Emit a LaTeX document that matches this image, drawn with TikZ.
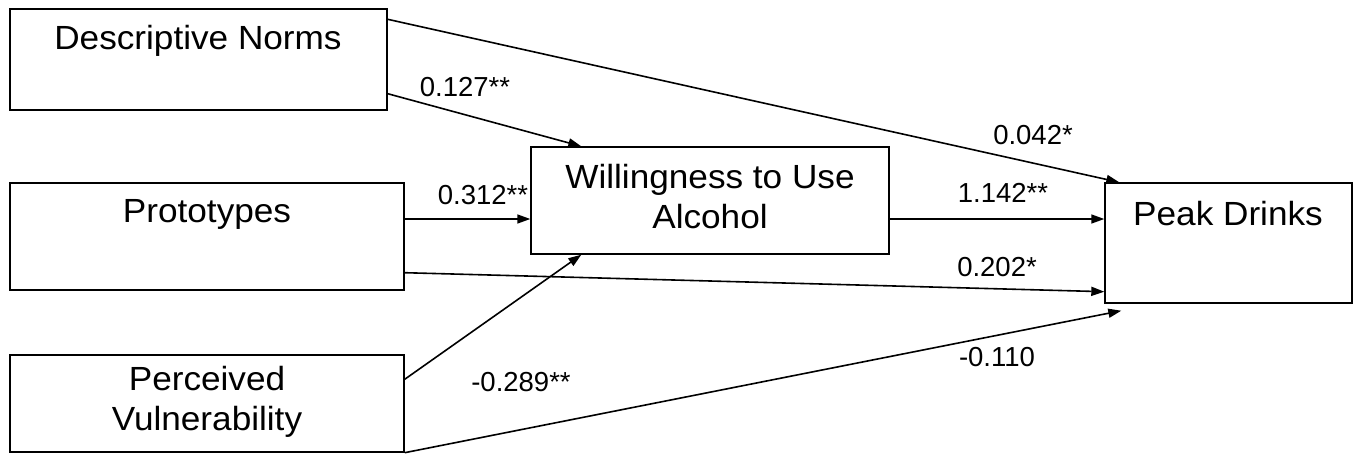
\documentclass[tikz,border=0pt]{standalone}
\usepackage{fontspec}
\setmainfont{Liberation Sans}
\newfontfamily\boxfont[FakeStretch=1.05]{Liberation Sans}
\newfontfamily\labfont{Liberation Sans}
\usetikzlibrary{arrows.meta}
\begin{document}
\begin{tikzpicture}[x=1pt,y=-1pt,
  box/.style={draw,line width=1.4pt,inner sep=0pt},
  btext/.style={inner sep=0pt,align=center,font=\boxfont\fontsize{33.5}{40}\selectfont},
  lab/.style={inner sep=0pt,font=\labfont\fontsize{27.5}{30}\selectfont},
  conn/.style={line width=1.6pt,-{Triangle[length=13pt,width=9pt]}}]
\useasboundingbox (0,0) rectangle (1358,453);
% boxes
\node[box,minimum width=377pt,minimum height=101pt] (dn) at (198.5,59.5) {};
\node[box,minimum width=394pt,minimum height=107pt] (pr) at (207,236.5) {};
\node[box,minimum width=394pt,minimum height=97pt] (pv) at (207,403.5) {};
\node[box,minimum width=358pt,minimum height=107pt] (w) at (710,200.5) {};
\node[box,minimum width=247pt,minimum height=120pt] (pd) at (1228.5,243) {};
% box texts
\node[btext] (dnt) at (198,41) {Descriptive Norms};
\node[btext] (prt) at (207,214) {Prototypes};
\node[btext] (pvt) at (207,402) {Perceived\\Vulnerability};
\node[btext] (wt) at (710,197) {Willingness to Use\\Alcohol};
\node[btext] (pdt) at (1228,214) {Peak Drinks};
% connectors
\draw[conn] ([yshift=-11pt]dn.north east) -- ([xshift=15pt]pd.north west);
\draw[conn] ([yshift=17pt]dn.south east) -- ([xshift=51pt]w.north west);
\draw[conn] ([yshift=17.5pt]pr.east) -- ([yshift=-18.5pt]w.west);
\draw[conn] ([yshift=18pt]pr.south east) -- ([yshift=12pt]pd.south west);
\draw[conn] ([yshift=-25pt]pv.north east) -- ([xshift=51pt]w.south west);
\draw[conn] (pv.south east) -- ([xshift=17pt,yshift=-7pt]pd.south west);
\draw[conn] ([yshift=-18.5pt]w.east) -- ([yshift=24pt]pd.west);
% labels
\node[lab] (l1) at (465,87) {0.127**};
\node[lab] (l2) at (483,195) {0.312**};
\node[lab] (l3) at (521,382) {-0.289**};
\node[lab] (l4) at (1033,135) {0.042*};
\node[lab] (l5) at (1003,193) {1.142**};
\node[lab] (l6) at (997,267) {0.202*};
\node[lab] (l7) at (997,357) {-0.110};
\end{tikzpicture}
\end{document}
